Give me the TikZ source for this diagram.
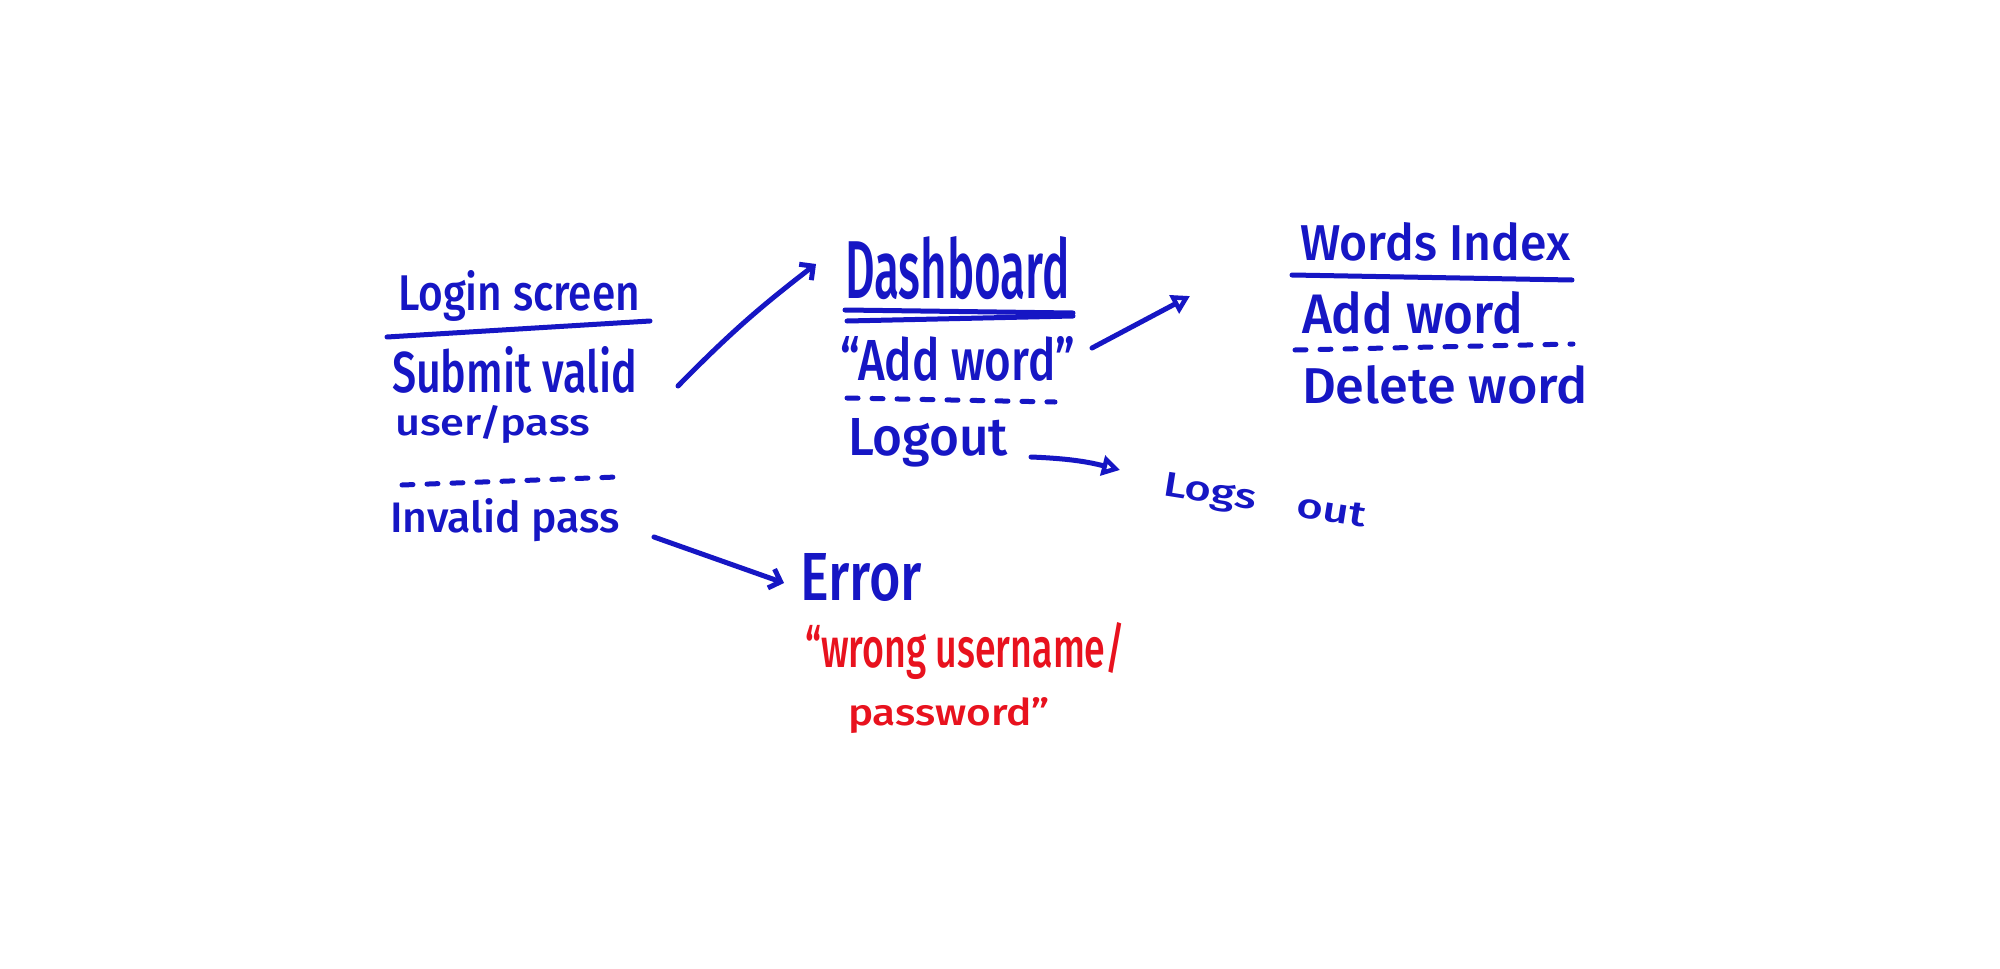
\documentclass[tikz,border=0pt]{standalone}
\usepackage{fontspec}
\setmainfont{Fira Sans}[BoldFont={* Medium}]
\usepackage{graphicx}
\usetikzlibrary{arrows.meta}
\definecolor{ink}{RGB}{22,22,196}
\definecolor{redink}{RGB}{232,18,30}
\newcommand\hw[3]{\resizebox{#1pt}{#2pt}{\bfseries #3}}
\begin{document}
\begin{tikzpicture}[x=1pt,y=-1pt,
  every node/.style={inner sep=0pt,outer sep=0pt,text=ink,anchor=base west},
  rule/.style={draw=ink,line width=5pt,line cap=round},
  dashrule/.style={rule,dash pattern=on 11pt off 14pt},
  conn/.style={draw=ink,line width=5pt,line cap=round,line join=round},
  chev/.style={conn,-{Straight Barb[length=10pt,width=20pt,line width=5pt]}},
  tri/.style={conn,-{Triangle[open,length=18pt,width=20pt,line width=5pt]}}]
\useasboundingbox (0,0) rectangle (2000,969);
\fill[white] (0,0) rectangle (2000,969);
% Login screen
\node (login) at (398,310) {\hw{242}{40}{Login screen}};
\node (submit) at (392,392) {\hw{245}{46}{Submit valid}};
\node (user) at (395,435) {\hw{195}{30}{user/pass}};
\node (invalid) at (390,532) {\hw{230}{34}{Invalid pass}};
\draw[rule] (387,337) -- (650,321);
\draw[dashrule] (402,485) -- (617,477);
% Dashboard
\node (dash) at (845,298) {\hw{225}{62}{Dashboard}};
\node (addw) at (840,380) {\hw{235}{44}{\textquotedblleft Add word\textquotedblright}};
\node (logout) at (848,455) {\hw{160}{37}{Logout}};
\draw[rule] (845,310) -- (1073,313);
\draw[rule] (847,321) -- (1073,316);
\draw[dashrule] (847,398) -- (1055,402);
% Logs out
\node[rotate=-9] (logsout) at (1162,495) {\hw{205}{24}{Logs\hspace{0.9em}out}};
% Words index
\node (words) at (1300,260) {\hw{270}{38}{Words Index}};
\node (wadd) at (1302,333) {\hw{221}{42}{Add word}};
\node (wdel) at (1302,403) {\hw{286}{38}{Delete word}};
\draw[rule] (1292,275) -- (1572,280);
\draw[dashrule] (1295,350) -- (1573,344);
% Error
\node (error) at (800,600) {\hw{122}{47}{Error}};
\node[text=redink] (msg1) at (805,667) {\hw{320}{45}{\textquotedblleft wrong username/}};
\node[text=redink] (msg2) at (848,725) {\hw{202}{28}{password\textquotedblright}};
% connectors
\coordinate (a1s) at (678,386);
\coordinate (a1e) at (816,264);
\coordinate (a2s) at (1092,348);
\coordinate (a2e) at (1190,296);
\coordinate (a3s) at (1031,457);
\coordinate (a3e) at (1120,470);
\coordinate (a4s) at (654,537);
\coordinate (a4e) at (784,583);
\draw[chev] (a1s) to[bend left=4] (a1e);
\draw[tri] (a2s) -- (a2e);
\draw[tri] (a3s) to[bend left=6] (a3e);
\draw[chev] (a4s) -- (a4e);
\end{tikzpicture}
\end{document}
